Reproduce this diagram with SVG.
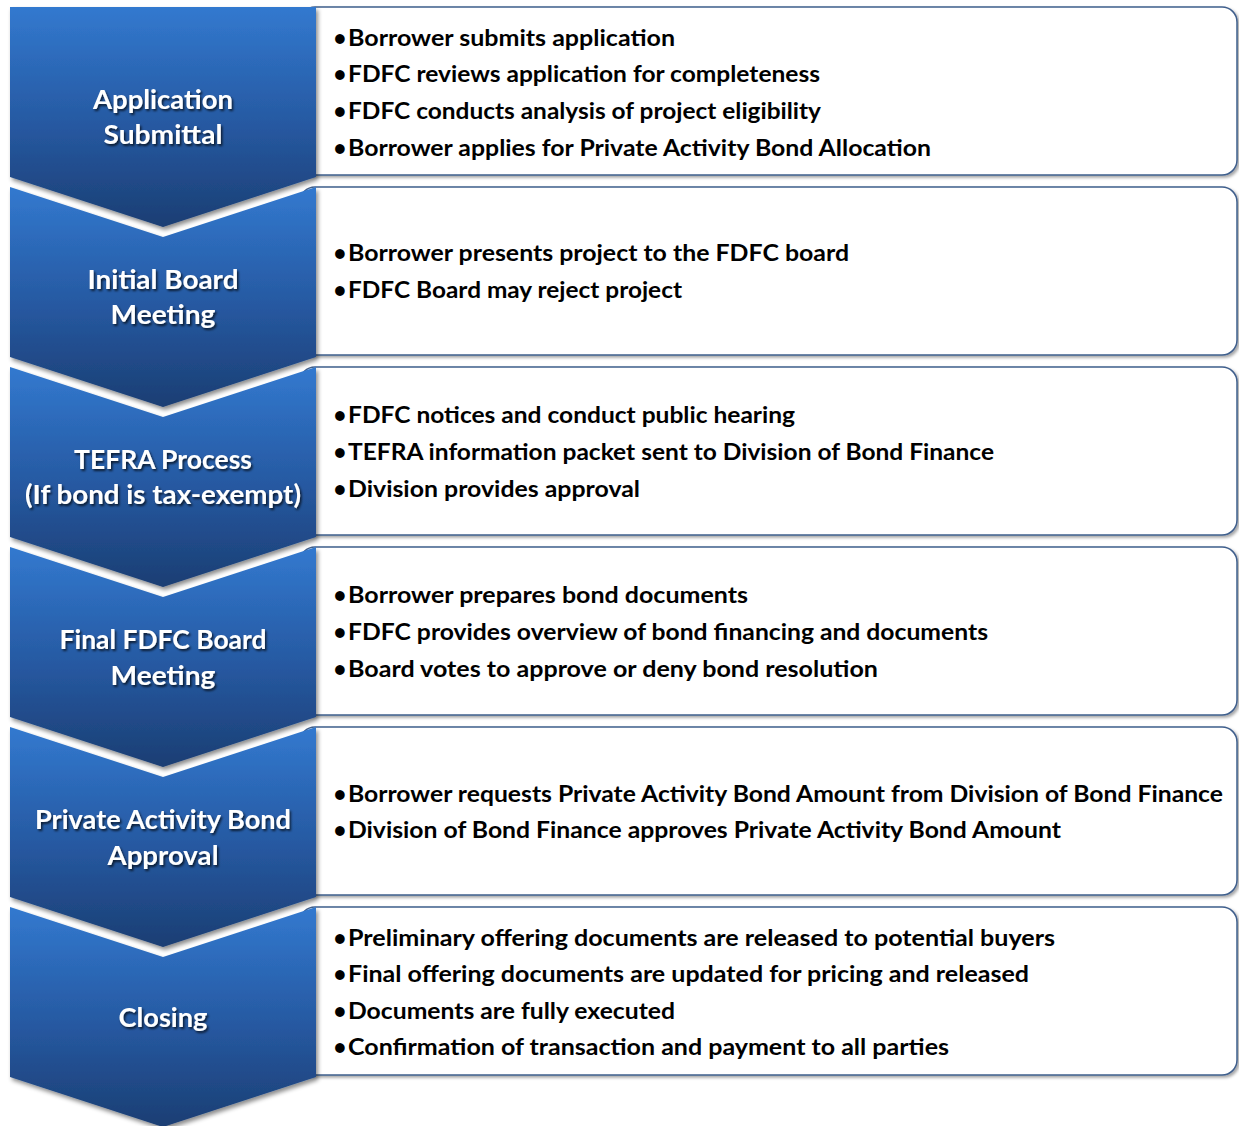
<svg xmlns="http://www.w3.org/2000/svg" width="1239" height="1126" viewBox="0 0 1239 1126">
  <defs>
    <linearGradient id="chev" x1="0" y1="0" x2="0" y2="1">
      <stop offset="0" stop-color="#3279cf"/>
      <stop offset="0.55" stop-color="#2658a0"/>
      <stop offset="1" stop-color="#1b3e73"/>
    </linearGradient>
    <filter id="shade" x="-5%" y="-5%" width="115%" height="120%">
      <feDropShadow dx="2" dy="3" stdDeviation="2" flood-color="#000" flood-opacity="0.45"/>
    </filter>
    <filter id="boxshade" x="-2%" y="-5%" width="104%" height="115%">
      <feDropShadow dx="2" dy="2" stdDeviation="1.5" flood-color="#000" flood-opacity="0.35"/>
    </filter>
    <filter id="txtshade" x="-10%" y="-30%" width="120%" height="160%">
      <feDropShadow dx="1.5" dy="2" stdDeviation="1.2" flood-color="#000" flood-opacity="0.7"/>
    </filter>
  </defs>
  <style>
    .box { fill: #ffffff; stroke: #3f5f8c; stroke-width: 1.5; filter: url(#boxshade); }
    .chev { fill: url(#chev); filter: url(#shade); }
    .lbl { font-family: Lato, "Open Sans", "Liberation Sans", sans-serif; font-weight: bold; font-size: 26px; fill: #ffffff; text-anchor: middle; filter: url(#txtshade); }
    .item { font-family: Lato, "Open Sans", "Liberation Sans", sans-serif; font-weight: bold; font-size: 22px; fill: #000000; }
    .dot { font-family: Lato, "Open Sans", "Liberation Sans", sans-serif; font-weight: bold; font-size: 22px; fill: #000000; text-anchor: middle; }
  </style>
  <rect width="1239" height="1126" fill="#ffffff"/>

  <!-- Step 1 -->
  <g id="step-application-submittal">
    <rect class="box" x="300" y="7" width="937" height="168" rx="15"/>
    <path class="chev" d="M10,7 H316 V177 L163,227 L10,177 Z"/>
    <text class="lbl" x="163" y="109" textLength="140" lengthAdjust="spacingAndGlyphs">Application</text>
    <text class="lbl" x="163" y="144" textLength="119" lengthAdjust="spacingAndGlyphs">Submittal</text>
    <text class="dot" x="340" y="46">•</text><text class="item" x="348" y="46" textLength="327" lengthAdjust="spacingAndGlyphs">Borrower submits application</text>
    <text class="dot" x="340" y="82">•</text><text class="item" x="348" y="82" textLength="472" lengthAdjust="spacingAndGlyphs">FDFC reviews application for completeness</text>
    <text class="dot" x="340" y="119">•</text><text class="item" x="348" y="119" textLength="473" lengthAdjust="spacingAndGlyphs">FDFC conducts analysis of project eligibility</text>
    <text class="dot" x="340" y="156">•</text><text class="item" x="348" y="156" textLength="583" lengthAdjust="spacingAndGlyphs">Borrower applies for Private Activity Bond Allocation</text>
  </g>

  <!-- Step 2 -->
  <g id="step-initial-board-meeting">
    <rect class="box" x="300" y="187" width="937" height="168" rx="15"/>
    <path class="chev" d="M10,187 L163,237 L316,187 V357 L163,407 L10,357 Z"/>
    <text class="lbl" x="163" y="289" textLength="151" lengthAdjust="spacingAndGlyphs">Initial Board</text>
    <text class="lbl" x="163" y="324" textLength="105" lengthAdjust="spacingAndGlyphs">Meeting</text>
    <text class="dot" x="340" y="261">•</text><text class="item" x="348" y="261" textLength="501" lengthAdjust="spacingAndGlyphs">Borrower presents project to the FDFC  board</text>
    <text class="dot" x="340" y="298">•</text><text class="item" x="348" y="298" textLength="334" lengthAdjust="spacingAndGlyphs">FDFC Board may reject project</text>
  </g>

  <!-- Step 3 -->
  <g id="step-tefra-process">
    <rect class="box" x="300" y="367" width="937" height="168" rx="15"/>
    <path class="chev" d="M10,367 L163,417 L316,367 V537 L163,587 L10,537 Z"/>
    <text class="lbl" x="163" y="469" textLength="178" lengthAdjust="spacingAndGlyphs">TEFRA Process</text>
    <text class="lbl" x="163" y="504" textLength="276" lengthAdjust="spacingAndGlyphs">(If bond is tax-exempt)</text>
    <text class="dot" x="340" y="423">•</text><text class="item" x="348" y="423" textLength="447" lengthAdjust="spacingAndGlyphs">FDFC notices and conduct public hearing</text>
    <text class="dot" x="340" y="460">•</text><text class="item" x="348" y="460" textLength="646" lengthAdjust="spacingAndGlyphs">TEFRA information packet sent to Division of Bond Finance</text>
    <text class="dot" x="340" y="497">•</text><text class="item" x="348" y="497" textLength="292" lengthAdjust="spacingAndGlyphs">Division provides approval</text>
  </g>

  <!-- Step 4 -->
  <g id="step-final-board-meeting">
    <rect class="box" x="300" y="547" width="937" height="168" rx="15"/>
    <path class="chev" d="M10,547 L163,597 L316,547 V717 L163,767 L10,717 Z"/>
    <text class="lbl" x="163" y="649" textLength="207" lengthAdjust="spacingAndGlyphs">Final FDFC Board</text>
    <text class="lbl" x="163" y="685" textLength="105" lengthAdjust="spacingAndGlyphs">Meeting</text>
    <text class="dot" x="340" y="603">•</text><text class="item" x="348" y="603" textLength="400" lengthAdjust="spacingAndGlyphs">Borrower prepares bond documents</text>
    <text class="dot" x="340" y="640">•</text><text class="item" x="348" y="640" textLength="640" lengthAdjust="spacingAndGlyphs">FDFC provides overview of bond financing and documents</text>
    <text class="dot" x="340" y="677">•</text><text class="item" x="348" y="677" textLength="530" lengthAdjust="spacingAndGlyphs">Board votes to approve or deny bond resolution</text>
  </g>

  <!-- Step 5 -->
  <g id="step-private-activity-bond-approval">
    <rect class="box" x="300" y="727" width="937" height="168" rx="15"/>
    <path class="chev" d="M10,727 L163,777 L316,727 V897 L163,947 L10,897 Z"/>
    <text class="lbl" x="163" y="829" textLength="256" lengthAdjust="spacingAndGlyphs">Private Activity Bond</text>
    <text class="lbl" x="163" y="865" textLength="111" lengthAdjust="spacingAndGlyphs">Approval</text>
    <text class="dot" x="340" y="802">•</text><text class="item" x="348" y="802" textLength="875" lengthAdjust="spacingAndGlyphs">Borrower requests Private Activity Bond Amount from Division of Bond Finance</text>
    <text class="dot" x="340" y="838">•</text><text class="item" x="348" y="838" textLength="713" lengthAdjust="spacingAndGlyphs">Division of Bond Finance approves Private Activity Bond Amount</text>
  </g>

  <!-- Step 6 -->
  <g id="step-closing">
    <rect class="box" x="300" y="907" width="937" height="168" rx="15"/>
    <path class="chev" d="M10,907 L163,957 L316,907 V1077 L163,1127 L10,1077 Z"/>
    <text class="lbl" x="163" y="1027" textLength="89" lengthAdjust="spacingAndGlyphs">Closing</text>
    <text class="dot" x="340" y="946">•</text><text class="item" x="348" y="946" textLength="707" lengthAdjust="spacingAndGlyphs">Preliminary offering documents are released to potential buyers</text>
    <text class="dot" x="340" y="982">•</text><text class="item" x="348" y="982" textLength="681" lengthAdjust="spacingAndGlyphs">Final offering documents are updated for pricing and released</text>
    <text class="dot" x="340" y="1019">•</text><text class="item" x="348" y="1019" textLength="327" lengthAdjust="spacingAndGlyphs">Documents are fully executed</text>
    <text class="dot" x="340" y="1055">•</text><text class="item" x="348" y="1055" textLength="601" lengthAdjust="spacingAndGlyphs">Confirmation of transaction and payment to all parties</text>
  </g>
</svg>
